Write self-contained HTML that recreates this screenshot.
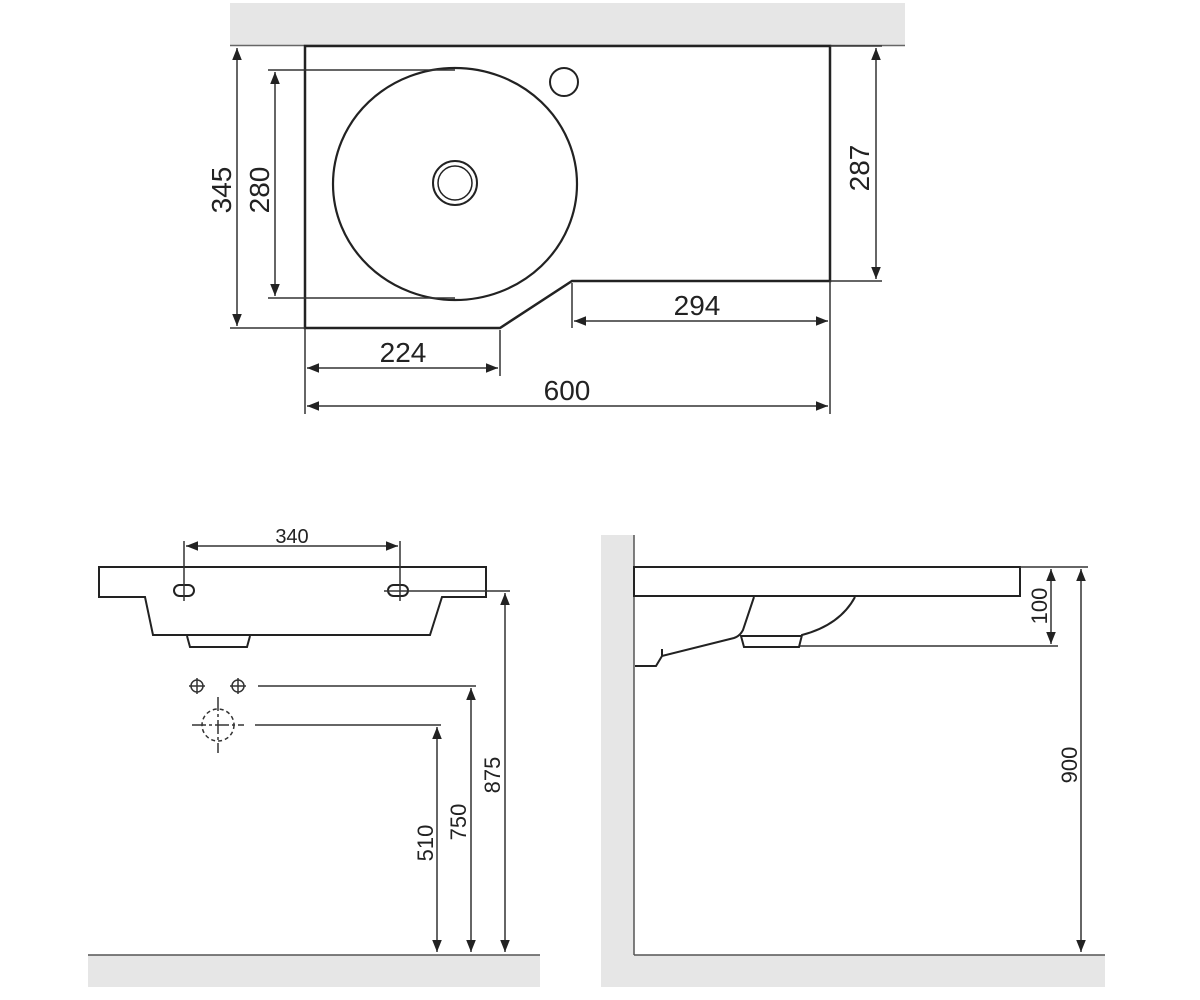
<!DOCTYPE html>
<html><head><style>html,body{margin:0;padding:0;background:#fff}svg{display:block}</style></head><body>
<svg width="1200" height="1000" viewBox="0 0 1200 1000" xmlns="http://www.w3.org/2000/svg" font-family="Liberation Sans, Arial, sans-serif">
<defs>
<marker id="a" viewBox="0 0 10 10" refX="10" refY="5" markerWidth="12" markerHeight="12" markerUnits="userSpaceOnUse" orient="auto-start-reverse"><path d="M0,1 L10,5 L0,9 z" fill="#222"/></marker>
</defs>
<!-- top view -->
<rect x="230" y="3" width="675" height="42" fill="#e6e6e6"/>
<line x1="230" y1="45.5" x2="905" y2="45.5" stroke="#666" stroke-width="1.5"/>
<path d="M305,46 L830,46 L830,281 L572,281 L500,328 L305,328 Z" fill="#fff" stroke="#222" stroke-width="2.5"/>
<ellipse cx="455" cy="184" rx="122" ry="116" fill="none" stroke="#222" stroke-width="2.2"/>
<circle cx="455" cy="183" r="22" fill="none" stroke="#222" stroke-width="2"/>
<circle cx="455" cy="183" r="17" fill="none" stroke="#222" stroke-width="1.5"/>
<circle cx="564" cy="82" r="14" fill="none" stroke="#222" stroke-width="2"/>
<g stroke="#333" stroke-width="1.5" fill="none">
<line x1="230" y1="328" x2="305" y2="328"/>
<line x1="268" y1="70" x2="455" y2="70"/>
<line x1="268" y1="298" x2="455" y2="298"/>
<line x1="830" y1="281" x2="882" y2="281"/>
<line x1="830" y1="46" x2="882" y2="46"/>
<line x1="572" y1="283" x2="572" y2="328"/>
<line x1="830" y1="281" x2="830" y2="414"/>
<line x1="500" y1="330" x2="500" y2="376"/>
<line x1="305" y1="328" x2="305" y2="414"/>
<line x1="237" y1="48" x2="237" y2="326" marker-start="url(#a)" marker-end="url(#a)"/>
<line x1="275" y1="72" x2="275" y2="296" marker-start="url(#a)" marker-end="url(#a)"/>
<line x1="876" y1="48" x2="876" y2="279" marker-start="url(#a)" marker-end="url(#a)"/>
<line x1="574" y1="321" x2="828" y2="321" marker-start="url(#a)" marker-end="url(#a)"/>
<line x1="307" y1="368" x2="498" y2="368" marker-start="url(#a)" marker-end="url(#a)"/>
<line x1="307" y1="406" x2="828" y2="406" marker-start="url(#a)" marker-end="url(#a)"/>
</g>
<g font-size="28" fill="#222" text-anchor="middle">
<text transform="translate(231,190) rotate(-90)">345</text>
<text transform="translate(269,190) rotate(-90)">280</text>
<text transform="translate(869,168) rotate(-90)">287</text>
<text x="697" y="315">294</text>
<text x="403" y="362">224</text>
<text x="567" y="400">600</text>
</g>
<!-- front view -->
<path d="M99,567 L486,567 L486,597 L442,597 L430,635 L153,635 L145,597 L99,597 Z" fill="#fff" stroke="#222" stroke-width="2"/>
<path d="M187,636 L190,647 L247,647 L250,636" fill="none" stroke="#222" stroke-width="2"/>
<rect x="174" y="585" width="20" height="11" rx="5.5" fill="none" stroke="#222" stroke-width="2"/>
<rect x="388" y="585" width="20" height="11" rx="5.5" fill="none" stroke="#222" stroke-width="2"/>
<g stroke="#333" stroke-width="1.5" fill="none">
<line x1="184" y1="541" x2="184" y2="601"/>
<line x1="400" y1="541" x2="400" y2="601"/>
<line x1="186" y1="546" x2="398" y2="546" marker-start="url(#a)" marker-end="url(#a)"/>
<line x1="384" y1="591" x2="510" y2="591"/>
<line x1="505" y1="593" x2="505" y2="952" marker-start="url(#a)" marker-end="url(#a)"/>
<line x1="258" y1="686" x2="476" y2="686"/>
<line x1="471" y1="688" x2="471" y2="952" marker-start="url(#a)" marker-end="url(#a)"/>
<line x1="255" y1="725" x2="441" y2="725"/>
<line x1="437" y1="727" x2="437" y2="952" marker-start="url(#a)" marker-end="url(#a)"/>
<circle cx="197" cy="686" r="6"/><line x1="189" y1="686" x2="205" y2="686"/><line x1="197" y1="678" x2="197" y2="694"/>
<circle cx="238" cy="686" r="6"/><line x1="230" y1="686" x2="246" y2="686"/><line x1="238" y1="678" x2="238" y2="694"/>
<circle cx="218" cy="725" r="16" stroke-dasharray="4,3"/>
<line x1="192" y1="725" x2="244" y2="725" stroke-dasharray="14,3,3,3"/>
<line x1="218" y1="697" x2="218" y2="753" stroke-dasharray="14,3,3,3"/>
</g>
<g font-size="20" fill="#222" text-anchor="middle">
<text x="292" y="543">340</text>
</g>
<g font-size="22" fill="#222" text-anchor="middle">
<text transform="translate(500,775) rotate(-90)">875</text>
<text transform="translate(466,822) rotate(-90)">750</text>
<text transform="translate(433,843) rotate(-90)">510</text>
</g>
<rect x="88" y="955" width="452" height="32" fill="#e6e6e6"/>
<line x1="88" y1="955" x2="540" y2="955" stroke="#555" stroke-width="1.5"/>
<!-- side view -->
<rect x="601" y="535" width="33" height="452" fill="#e6e6e6"/>
<rect x="601" y="955" width="504" height="32" fill="#e6e6e6"/>
<line x1="634" y1="535" x2="634" y2="955" stroke="#555" stroke-width="1.5"/>
<line x1="634" y1="955" x2="1105" y2="955" stroke="#555" stroke-width="1.5"/>
<rect x="634" y="567" width="386" height="29" fill="#fff" stroke="#222" stroke-width="2"/>
<g stroke="#222" stroke-width="2" fill="none">
<path d="M754,597 L743,630 Q740,636 734,638 L662,656 L662,649 M662,656 L656,666 L635,666"/>
<path d="M855,597 Q840,625 802,635 L799,647 L744,647 L741,636 L802,636"/>
</g>
<g stroke="#333" stroke-width="1.5" fill="none">
<line x1="1020" y1="567" x2="1088" y2="567"/>
<line x1="800" y1="646" x2="1058" y2="646"/>
<line x1="1051" y1="569" x2="1051" y2="644" marker-start="url(#a)" marker-end="url(#a)"/>
<line x1="1081" y1="569" x2="1081" y2="952" marker-start="url(#a)" marker-end="url(#a)"/>
</g>
<g font-size="22" fill="#222" text-anchor="middle">
<text transform="translate(1047,606) rotate(-90)">100</text>
<text transform="translate(1077,765) rotate(-90)">900</text>
</g>
</svg>
</body></html>
